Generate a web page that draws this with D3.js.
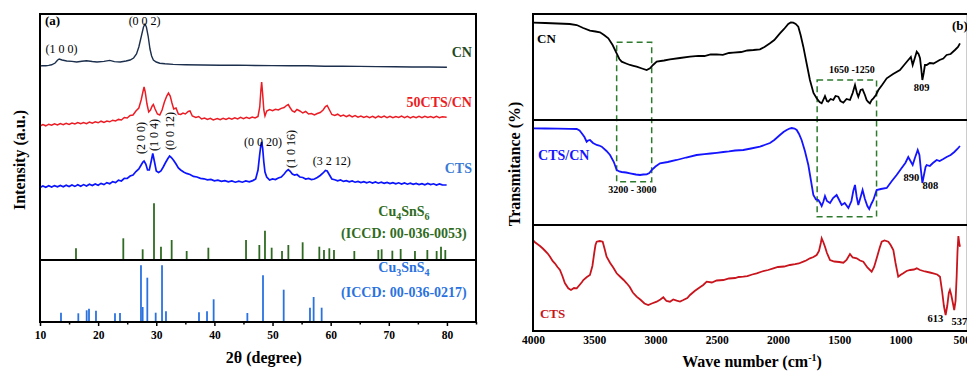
<!DOCTYPE html>
<html>
<head>
<meta charset="utf-8">
<script src="https://cdn.jsdelivr.net/npm/d3@7/dist/d3.min.js"></script>
<style>
  body { margin: 0; background: #fff; }
  text { font-family: "Liberation Serif", "Times New Roman", serif; }
</style>
</head>
<body>
<svg id="chart" width="967" height="371"></svg>
<script>
// ---------- (a) XRD data : [2theta, intensity a.u.] ----------
const xrdCN = [[10,256],[10.5,256.4],[11,256.2],[11.5,256.6],[12,257.2],[12.6,259],[13,261.8],[13.3,263],[13.8,262],[14.6,261],[15.5,260.6],[16.3,260],[17.2,260.8],[18,261.3],[19,260.5],[19.8,260],[21,260.6],[22,261.6],[22.8,260.4],[23.8,260],[24.8,261],[25.5,262],[26.1,264],[26.6,268],[27,275],[27.4,285],[27.8,295],[28.06,298],[28.3,295],[28.6,286],[28.92,273],[29.2,266],[29.5,262],[30,260],[30.6,258.8],[31.5,258.2],[32.9,257.6],[35,257.2],[38,257],[41,256.8],[44,256.9],[47,256.5],[50,256.4],[53,256.2],[56,256.2],[59,255.8],[62,255.7],[65,255.6],[68,255.4],[71,255.3],[74,255],[77,255],[80,254.7]];

const xrd50CTSCN = [[10,196],[10.5,197.5],[11,196.2],[11.5,197.8],[12,196.8],[12.5,198.2],[13,197],[13.5,198.5],[14,197.4],[14.5,198.8],[15,197.6],[15.5,199],[16,198],[16.5,199.5],[17,198.2],[17.5,199.4],[18,198.4],[18.5,200],[19,198.8],[19.5,200.2],[20,199.2],[20.5,200.8],[21,199.6],[21.5,201],[22,200.2],[22.5,201.8],[23,201],[23.5,202.6],[24,202],[24.5,204.5],[25,204],[25.5,206.5],[26,207],[26.5,211],[27,214],[27.4,222],[27.7,230],[27.9,235],[28.1,230],[28.4,218],[28.7,210],[29,212],[29.3,216],[29.5,217.5],[29.8,213],[30.2,208],[30.6,207],[31,212],[31.4,220],[31.8,226],[32.1,229],[32.4,226],[32.7,219],[33,213],[33.4,214],[33.8,208],[34.2,207.5],[34.6,209],[35,208],[35.5,210.5],[35.8,211],[36.2,206],[36.8,204.5],[37.3,205.5],[37.8,203],[38.3,204],[38.8,202.5],[39.3,203.6],[39.8,202],[40.5,203.5],[41,202.4],[41.5,203.8],[42,202.6],[42.5,204],[43,202.8],[43.5,204.2],[44,203],[44.5,204.6],[45,203.4],[45.5,204.8],[46,203.6],[46.5,205],[47,204],[47.5,205.5],[47.8,215],[48,232],[48.13,240],[48.3,228],[48.5,212],[48.7,206],[49,211],[49.5,212.5],[50,211.4],[50.5,212.8],[51,212],[51.5,213.6],[52,214.5],[52.4,216.5],[52.7,217.5],[53,214.5],[53.4,211],[53.8,210],[54.2,212.5],[54.7,211],[55.2,209],[55.7,210.5],[56.2,208],[56.7,208.4],[57.2,207],[57.7,208.5],[58.2,209.5],[58.7,212],[59.1,215.5],[59.4,216.5],[59.8,212],[60.2,207.5],[60.7,206.6],[61.2,207.8],[61.7,205.8],[62.2,207],[62.7,205.4],[63.2,206.8],[63.7,205],[64.2,206.4],[64.7,204.8],[65.2,206],[65.7,204.6],[66.2,205.8],[66.7,204.4],[67.2,205.6],[67.7,204.2],[68.2,205.8],[68.7,204.6],[69.2,206],[69.7,204.4],[70.2,205.6],[70.7,204.2],[71.2,205.4],[71.7,204.6],[72.2,206],[72.7,204.4],[73.2,205.6],[73.7,204],[74.2,205.4],[74.7,204.2],[75.2,205.6],[75.7,204.4],[76.2,205.8],[76.7,204.6],[77.2,205.4],[77.7,204.2],[78.2,205.6],[78.7,204.4],[79.2,205.2],[79.95,204.8]];

const xrdCTS = [[10,134.5],[10.5,136],[11,134.8],[11.5,136.2],[12,135],[12.5,136.4],[13,135.2],[13.5,136.6],[14,135.2],[14.5,136.8],[15,135.4],[15.5,137],[16,135.6],[16.5,137.2],[17,135.8],[17.5,137.4],[18,136],[18.5,137.8],[19,136.4],[19.5,138],[20,136.8],[20.5,138.6],[21,137.4],[21.5,139.4],[22,138.2],[22.5,140.4],[23,139.4],[23.5,141.8],[24,141],[24.5,143.6],[25,143.5],[25.5,146],[26,147],[26.5,150.5],[27,153],[27.4,157],[27.7,160],[27.9,161],[28.2,158],[28.5,152],[28.8,152],[29.1,160],[29.4,168.5],[29.7,160],[30,151],[30.4,149.5],[30.8,151],[31.2,155],[31.6,159.5],[32,163.5],[32.3,166],[32.6,164.5],[33,161.5],[33.4,158],[33.8,154],[34.2,152],[34.7,150],[35.2,148.6],[35.8,147.5],[36.4,145.6],[37,145],[37.6,143.6],[38.2,143.2],[38.8,142.2],[39.4,142.6],[40,141.2],[40.6,141.8],[41.2,140.6],[41.8,141.4],[42.4,140.2],[43,141],[43.6,139.8],[44.2,140.8],[44.8,139.8],[45.4,141],[46,140.2],[46.6,141.4],[47.1,143],[47.5,152],[47.8,168],[48,177],[48.13,180],[48.3,174],[48.5,160],[48.7,150],[49,145],[49.5,142],[50,143],[50.5,142.4],[51,144],[51.5,145],[52,148],[52.4,151],[52.7,152.5],[53,151],[53.4,148],[53.8,147],[54.2,147.5],[54.7,145],[55.2,144.5],[55.7,143],[56.2,143.6],[56.7,142.4],[57.2,143],[57.7,144.5],[58.2,146.5],[58.7,149],[59.1,151.5],[59.4,151],[59.8,147],[60.2,143],[60.7,142.2],[61.2,141.2],[61.7,142],[62.2,140.6],[62.7,141.4],[63.2,140.2],[63.7,141],[64.2,139.8],[64.7,140.6],[65.2,139.4],[65.7,140.4],[66.2,139.2],[66.7,140.2],[67.2,139],[67.7,140],[68.2,138.8],[68.7,139.8],[69.2,138.6],[69.7,139.6],[70.2,138.4],[70.7,139.4],[71.2,138.2],[71.7,139.2],[72.2,138],[72.7,139],[73.2,137.8],[73.7,138.8],[74.2,137.6],[74.7,138.6],[75.2,137.4],[75.7,138.4],[76.2,137.2],[76.7,138.6],[77.2,137.4],[77.7,138.2],[78.2,137],[78.7,138],[79.2,137.2],[79.95,137]];

// reference patterns : [2theta, relative intensity]
const refCu4SnS6 = [[16.19,11.7],[24.33,21.7],[27.66,10.7],[29.61,56.7],[30.81,13.3],[32.65,20],[35.23,9],[38.96,12.3],[45.44,20],[47.73,15],[48.7,29.3],[49.85,12.3],[51.63,9],[52.72,15],[55.18,17.7],[58.05,13.3],[58.85,10],[59.77,11.7],[60.57,10],[64.07,9],[68.2,10],[68.77,10.7],[70.61,9.3],[72.04,11],[74.5,9],[76.63,10],[78.23,9],[78.98,13.3],[79.72,10]];
const refCu3SnS4 = [[13.61,9.3],[16.59,8.7],[18.03,11.7],[18.43,13.3],[19.63,11.3],[22.9,8.7],[23.76,9],[27.37,56.7],[27.66,15],[28.46,44.3],[29.9,9.3],[30.99,56.7],[31.67,10.7],[37.35,9.7],[38.73,10.7],[39.87,22.7],[45.67,9],[48.36,46.7],[51.92,32.3],[56.44,14.3],[57.07,25],[58.45,14.3]];
const refBase = { cu4: 62, cu3: 0 };
const xrdTicks = [10, 20, 30, 40, 50, 60, 70, 80];
const xrdMinor = [15, 25, 35, 45, 55, 65, 75, 85];

// ---------- (b) FTIR data : [wavenumber, transmittance a.u.] ----------
const irCN = [[4000,308.4],[3900,308],[3800,307.5],[3700,307],[3643,306],[3590,303],[3535,300.3],[3490,299.5],[3453,298.7],[3420,296],[3385,292.7],[3350,286],[3317,277.7],[3295,272],[3276,269.3],[3240,267.5],[3208,266],[3180,265.2],[3154,264.3],[3110,262.5],[3072,261],[3045,262.7],[3020,266],[2990,269.3],[2930,270.5],[2882,271.7],[2800,273],[2718,274.3],[2650,275.2],[2600,275],[2550,276.5],[2500,276.7],[2450,276.2],[2400,278],[2365,278.3],[2300,279],[2250,280.5],[2200,281],[2147,281.7],[2110,284],[2065,287.7],[2030,291],[1984,297.7],[1950,302],[1916,307],[1895,308.5],[1875,308.3],[1855,307],[1834,304.3],[1815,296],[1793,284.3],[1765,267],[1739,251],[1710,238],[1684,232.7],[1660,229],[1643,227.7],[1630,231],[1616,235],[1600,230],[1589,229.3],[1570,232],[1548,231],[1530,235],[1507,234.3],[1490,230],[1466,228.3],[1440,232],[1412,231],[1390,238],[1371,246],[1355,238],[1344,234.3],[1325,241],[1309,241.7],[1290,236],[1276,231],[1262,229],[1249,227.7],[1235,231],[1221,232.7],[1200,236],[1180,241],[1150,246],[1112,252.7],[1060,257],[1004,261],[970,266],[936,271],[915,274],[900,266],[885,272],[867,279.3],[852,277],[840,272.7],[830,262],[821,251],[810,258],[800,266],[786,266],[760,268],[730,267.5],[704,269.3],[680,271],[650,272.5],[623,276],[590,277],[555,281],[530,284],[514,287.7]];

const irCTSCN = [[4000,202.7],[3900,202.5],[3800,202.4],[3700,202.2],[3643,202],[3620,200.5],[3602,197.7],[3580,194],[3562,189.3],[3550,190.5],[3535,191],[3510,188],[3480,186],[3460,185.5],[3439,184.3],[3400,180],[3371,176],[3340,169],[3317,161],[3295,159.5],[3276,159],[3240,158.5],[3208,157.7],[3160,156.5],[3126,156],[3100,156.5],[3072,156.7],[3050,158],[3031,161],[3000,164.5],[2963,167.7],[2900,169],[2827,171],[2750,173.5],[2664,176],[2600,176.8],[2550,177.5],[2500,178.2],[2446,179],[2400,179.6],[2350,180.5],[2283,181],[2220,182.5],[2147,184.3],[2110,186],[2065,188],[2030,191],[1984,196],[1955,199],[1929,201],[1905,202.5],[1888,203],[1865,202.5],[1847,201],[1828,197],[1807,191],[1780,180],[1752,166],[1730,150],[1711,136],[1690,131.5],[1670,131],[1655,128],[1643,125],[1630,129],[1616,135],[1600,130],[1575,128],[1550,133],[1521,136],[1500,131],[1480,126],[1455,128],[1425,123],[1400,130],[1385,140],[1371,146],[1357,134],[1344,126],[1325,134],[1309,141],[1290,132],[1270,125],[1255,122],[1238,127],[1221,131],[1205,137],[1194,141],[1160,142],[1112,143],[1070,150],[1031,156],[990,163],[960,168],[936,174],[918,170],[900,166],[882,173],[859,181],[845,176],[832,160],[821,148],[808,156],[795,164],[786,166],[760,165],[735,168],[704,171],[680,170],[650,172],[623,174],[590,176],[560,179],[535,182],[514,185]];

const irCTS = [[4000,91],[3984,88.7],[3965,87],[3943,85],[3920,82.5],[3900,80],[3880,77.5],[3861,74.3],[3840,70],[3820,67.5],[3800,64],[3780,61],[3760,55],[3740,48],[3712,42.7],[3690,41],[3665,43],[3643,42.7],[3620,46],[3600,49],[3589,51],[3560,54],[3535,56],[3515,65],[3500,78],[3490,86],[3480,89.3],[3455,90],[3431,89.3],[3415,82],[3399,74.3],[3370,68],[3345,63.5],[3317,57.7],[3290,54.5],[3260,51],[3235,47.7],[3210,44],[3185,38.5],[3154,34.3],[3120,31],[3090,27.5],[3059,26],[3030,27.5],[2990,29.3],[2960,31.5],[2936,33.7],[2910,30],[2882,29.3],[2855,31.5],[2827,30.3],[2800,29.5],[2773,31],[2740,33],[2718,36],[2680,40],[2640,43.5],[2610,46],[2582,49.3],[2540,48.5],[2500,50.5],[2446,51],[2400,52.5],[2350,53],[2320,54],[2283,54.3],[2250,54.8],[2210,56.5],[2174,57.7],[2130,59.5],[2080,61],[2038,62.7],[2000,64],[1950,64.5],[1902,66],[1860,66.8],[1830,67.5],[1793,69.3],[1770,70.5],[1739,72.7],[1710,74],[1684,76],[1665,80],[1650,88],[1643,92.7],[1630,89],[1616,84.3],[1600,78],[1575,71],[1540,69.5],[1500,69],[1466,68.3],[1440,71],[1412,77],[1390,73.5],[1357,72.7],[1330,70.5],[1303,69.3],[1270,63.5],[1235,59.3],[1215,64],[1194,72.7],[1170,83],[1153,89.3],[1130,90.5],[1099,89.3],[1080,86],[1058,81],[1040,68],[1018,54.3],[1000,56],[977,57.7],[950,60],[920,61],[890,61.5],[867,62.7],[840,61],[800,59.5],[760,58.5],[732,57.7],[700,56.5],[677,54.3],[660,40],[645,25],[631,16],[618,25],[605,38],[596,41],[585,36],[572,28],[561,21],[550,30],[541,54.3],[534,80],[527,95],[520,88],[514,84.3]];

const irTicks = [4000, 3500, 3000, 2500, 2000, 1500, 1000, 500];
// dashed highlight boxes: [wn from, wn to, low, high]
const irBoxes = [[3317, 3031, 149.3, 288.7], [1680, 1195, 114.3, 251]];
const irBands = [211, 106]; // divider levels between stacked spectra

const svg = d3.select("#chart");

// ---------- panel (a) ----------
const xA = d3.scaleLinear().domain([10, 85]).range([40, 476]);
const yA = d3.scaleLinear().domain([0, 308]).range([322, 14]);
const gA = svg.append("g");

const lineA = d3.line().x(d => xA(d[0])).y(d => yA(d[1]));

// reference sticks
gA.selectAll(".s6").data(refCu4SnS6).enter().append("line")
  .attr("x1", d => xA(d[0])).attr("x2", d => xA(d[0]))
  .attr("y1", yA(refBase.cu4)).attr("y2", d => yA(refBase.cu4 + d[1]))
  .attr("stroke", "#2f6b22").attr("stroke-width", 1.8);
gA.selectAll(".s4").data(refCu3SnS4).enter().append("line")
  .attr("x1", d => xA(d[0])).attr("x2", d => xA(d[0]))
  .attr("y1", yA(refBase.cu3)).attr("y2", d => yA(refBase.cu3 + d[1]))
  .attr("stroke", "#2a72e0").attr("stroke-width", 1.8);

gA.append("path").datum(xrdCN).attr("d", lineA)
  .attr("fill", "none").attr("stroke", "#1c2f4d").attr("stroke-width", 1.4);
gA.append("path").datum(xrd50CTSCN).attr("d", lineA)
  .attr("fill", "none").attr("stroke", "#ec1c24").attr("stroke-width", 1.5);
gA.append("path").datum(xrdCTS).attr("d", lineA)
  .attr("fill", "none").attr("stroke", "#0a14ff").attr("stroke-width", 1.7);

// divider + frame
gA.append("line").attr("x1", xA(10)).attr("x2", xA(85))
  .attr("y1", yA(refBase.cu4)).attr("y2", yA(refBase.cu4))
  .attr("stroke", "#000").attr("stroke-width", 2);
gA.append("rect").attr("x", xA(10)).attr("y", yA(308))
  .attr("width", xA(85) - xA(10)).attr("height", yA(0) - yA(308))
  .attr("fill", "none").attr("stroke", "#000").attr("stroke-width", 2);

const axA = gA.append("g").attr("transform", `translate(0,${yA(0)})`)
  .call(d3.axisBottom(xA).tickValues(xrdTicks).tickSize(4).tickPadding(5));
axA.select(".domain").remove();
axA.selectAll("line").attr("stroke-width", 1.5);
axA.selectAll("text").attr("font-size", 11.5).attr("font-weight", "bold")
  .style("font-family", "Liberation Serif");
const axAm = gA.append("g").attr("transform", `translate(0,${yA(0)})`)
  .call(d3.axisBottom(xA).tickValues(xrdMinor).tickSize(2.5).tickFormat(""));
axAm.select(".domain").remove();
axAm.selectAll("line").attr("stroke-width", 1.5);

// labels (a)
function lab(g, x, y, txt, opt) {
  const t = g.append("text").attr("x", x).attr("y", y).text(txt)
    .attr("font-size", opt.size || 12)
    .attr("font-weight", opt.bold ? "bold" : "normal")
    .attr("fill", opt.color || "#000")
    .attr("text-anchor", opt.anchor || "start");
  if (opt.rot) t.attr("transform", `rotate(-90,${x},${y})`);
  return t;
}
lab(gA, xA(10.85), yA(297), "(a)", { size: 13, bold: true });
lab(gA, xA(28.0), yA(297), "(0 0 2)", { size: 12, anchor: "middle" });
lab(gA, xA(13.7), yA(269), "(1 0 0)", { size: 12, anchor: "middle" });
lab(gA, xA(84.3), yA(265), "CN", { size: 14, bold: true, color: "#1f4a1f", anchor: "end" });
lab(gA, xA(84.3), yA(215), "50CTS/CN", { size: 14, bold: true, color: "#ec1c24", anchor: "end" });
lab(gA, xA(84.3), yA(149), "CTS", { size: 14, bold: true, color: "#3a7bd5", anchor: "end" });
lab(gA, xA(28.06), yA(168), "(2 0 0)", { size: 12, rot: true });
lab(gA, xA(30.3), yA(171), "(1 0 4)", { size: 12, rot: true });
lab(gA, xA(33.05), yA(172), "(0 0 12)", { size: 12, rot: true });
lab(gA, xA(53.87), yA(154), "(1 0 16)", { size: 12, rot: true });
lab(gA, xA(48.36), yA(176), "(0 0 20)", { size: 12, anchor: "middle" });
lab(gA, xA(60.2), yA(157), "(3 2 12)", { size: 12, anchor: "middle" });

function formula(g, x, y, parts, color) {
  const t = g.append("text").attr("x", x).attr("y", y).attr("font-size", 14)
    .attr("font-weight", "bold").attr("fill", color).attr("text-anchor", "middle");
  parts.forEach(p => {
    const s = t.append("tspan").text(p[0]);
    if (p[1]) s.attr("font-size", 10).attr("dy", 4);
    else s.attr("dy", t.selectAll("tspan").size() > 1 ? -4 : 0);
  });
}
formula(gA, xA(72.6), yA(106), [["Cu"], ["4", 1], ["SnS"], ["6", 1]], "#2f6b22");
lab(gA, xA(72.6), yA(84), "(ICCD: 00-036-0053)", { size: 14, bold: true, color: "#2f6b22", anchor: "middle" });
formula(gA, xA(72.6), yA(50), [["Cu"], ["3", 1], ["SnS"], ["4", 1]], "#2a72e0");
lab(gA, xA(72.6), yA(25), "(ICCD: 00-036-0217)", { size: 14, bold: true, color: "#2a72e0", anchor: "middle" });

svg.append("text").attr("x", xA(48.5)).attr("y", 363).attr("text-anchor", "middle")
  .attr("font-size", 16).attr("font-weight", "bold").text("2θ (degree)");
svg.append("text").attr("transform", "translate(25,160) rotate(-90)").attr("text-anchor", "middle")
  .attr("font-size", 16).attr("font-weight", "bold").text("Intensity (a.u.)");

// ---------- panel (b) ----------
const xB = d3.scaleLinear().domain([4000, 450]).range([533, 967.8]);
const yB = d3.scaleLinear().domain([0, 317]).range([331, 14]);
const gB = svg.append("g");
const lineB = d3.line().x(d => xB(d[0])).y(d => yB(d[1]));

gB.selectAll(".box").data(irBoxes).enter().append("rect")
  .attr("x", d => xB(d[0])).attr("width", d => xB(d[1]) - xB(d[0]))
  .attr("y", d => yB(d[3])).attr("height", d => yB(d[2]) - yB(d[3]))
  .attr("fill", "none").attr("stroke", "#2e7a2e").attr("stroke-width", 1.5)
  .attr("stroke-dasharray", "6,4");

gB.append("path").datum(irCN).attr("d", lineB)
  .attr("fill", "none").attr("stroke", "#000").attr("stroke-width", 1.8);
gB.append("path").datum(irCTSCN).attr("d", lineB)
  .attr("fill", "none").attr("stroke", "#1414ff").attr("stroke-width", 1.8);
gB.append("path").datum(irCTS).attr("d", lineB)
  .attr("fill", "none").attr("stroke", "#c8141c").attr("stroke-width", 1.8);

gB.selectAll(".band").data(irBands).enter().append("line")
  .attr("x1", xB(4000)).attr("x2", xB(450))
  .attr("y1", d => yB(d)).attr("y2", d => yB(d))
  .attr("stroke", "#000").attr("stroke-width", 2);
gB.append("rect").attr("x", xB(4000)).attr("y", yB(317))
  .attr("width", xB(450) - xB(4000)).attr("height", yB(0) - yB(317))
  .attr("fill", "none").attr("stroke", "#000").attr("stroke-width", 2);

const axB = gB.append("g").attr("transform", `translate(0,${yB(0)})`)
  .call(d3.axisBottom(xB).tickValues(irTicks).tickSize(0).tickPadding(4.5).tickFormat(d3.format("d")));
axB.select(".domain").remove();
axB.selectAll("text").attr("font-size", 11.5).attr("font-weight", "bold")
  .style("font-family", "Liberation Serif");

lab(gB, xB(3967), yB(288), "CN", { size: 13, bold: true });
lab(gB, xB(579), yB(301), "(b)", { size: 13, bold: true });
lab(gB, xB(1396), yB(258), "1650 -1250", { size: 10, bold: true, anchor: "middle" });
lab(gB, xB(828), yB(240), "809", { size: 10.5, bold: true, anchor: "middle" });
lab(gB, xB(3959), yB(171), "CTS/CN", { size: 14, bold: true, color: "#1414ff" });
lab(gB, xB(3188), yB(138), "3200 - 3000", { size: 10, bold: true, anchor: "middle" });
lab(gB, xB(910), yB(150), "890", { size: 10.5, bold: true, anchor: "middle" });
lab(gB, xB(755), yB(142), "808", { size: 10.5, bold: true, anchor: "middle" });
lab(gB, xB(3943), yB(13), "CTS", { size: 13, bold: true, color: "#c8141c" });
lab(gB, xB(714), yB(9), "613", { size: 10.5, bold: true, anchor: "middle" });
lab(gB, xB(518), yB(6), "537", { size: 10.5, bold: true, anchor: "middle" });

const tB = svg.append("text").attr("x", 752).attr("y", 367).attr("text-anchor", "middle")
  .attr("font-size", 16).attr("font-weight", "bold");
tB.append("tspan").text("Wave number (cm");
tB.append("tspan").text("-1").attr("font-size", 10).attr("dy", -6);
tB.append("tspan").text(")").attr("dy", 6);
svg.append("text").attr("transform", "translate(520,164) rotate(-90)").attr("text-anchor", "middle")
  .attr("font-size", 16).attr("font-weight", "bold").text("Transmitance (%)");
</script>
</body>
</html>
